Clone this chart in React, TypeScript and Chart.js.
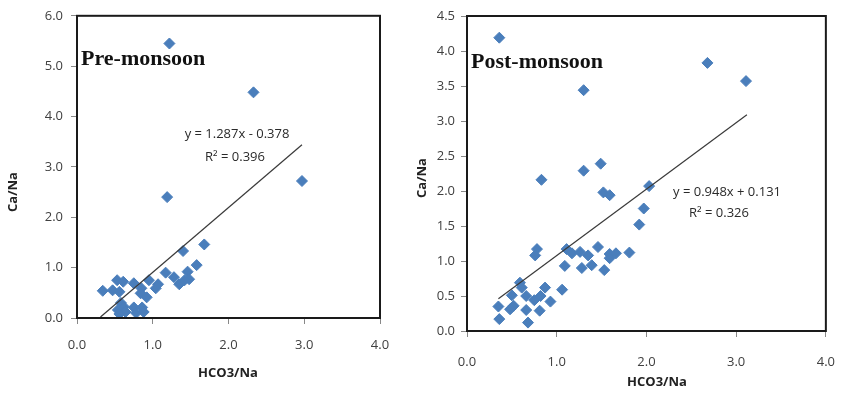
import React, { useEffect, useRef } from "react";
import { Chart, registerables } from "chart.js";
Chart.register(...registerables);

// Pre-monsoon
const preX = [1.22, 2.33, 2.97, 1.19, 1.68, 1.40, 1.58, 1.46, 1.17, 1.28, 1.35, 1.48, 1.42, 0.95, 1.07, 1.04, 0.53, 0.61, 0.34, 0.47, 0.56, 0.75, 0.85, 0.84, 0.92, 0.58, 0.62, 0.54, 0.64, 0.56, 0.75, 0.78, 0.86, 0.88];
const preY = [5.45, 4.48, 2.72, 2.40, 1.46, 1.33, 1.05, 0.92, 0.90, 0.81, 0.67, 0.77, 0.75, 0.75, 0.67, 0.59, 0.75, 0.72, 0.54, 0.55, 0.52, 0.69, 0.59, 0.49, 0.41, 0.30, 0.22, 0.16, 0.12, 0.08, 0.21, 0.10, 0.21, 0.12];
const preTrendX = [0.31, 2.97];
const preTrendY = [0.02, 3.44];
const preTicksY = [0, 1, 2, 3, 4, 5, 6];

// Post-monsoon
const postX = [0.36, 2.68, 3.11, 1.30, 1.49, 1.30, 0.83, 2.03, 1.52, 1.59, 1.97, 1.92, 0.78, 0.76, 1.11, 1.17, 1.26, 1.35, 1.46, 1.59, 1.59, 1.66, 1.81, 1.09, 1.28, 1.39, 1.53, 0.59, 0.61, 1.06, 0.87, 0.50, 0.66, 0.75, 0.82, 0.93, 0.52, 0.48, 0.35, 0.66, 0.81, 0.36, 0.68];
const postY = [4.19, 3.83, 3.57, 3.44, 2.39, 2.29, 2.16, 2.07, 1.98, 1.94, 1.75, 1.52, 1.17, 1.08, 1.17, 1.11, 1.13, 1.08, 1.20, 1.10, 1.04, 1.11, 1.12, 0.93, 0.90, 0.94, 0.87, 0.69, 0.62, 0.59, 0.62, 0.51, 0.50, 0.44, 0.50, 0.42, 0.36, 0.31, 0.35, 0.30, 0.29, 0.17, 0.12];
const postTrendX = [0.35, 3.12];
const postTrendY = [0.46, 3.09];
const postTicksY = [0, 0.5, 1, 1.5, 2, 2.5, 3, 3.5, 4, 4.5];

const xTicks = [0, 1, 2, 3, 4];
const xTitle = "HCO3/Na";
const yTitle = "Ca/Na";

type Cfg = {
  xs: number[]; ys: number[]; tx: number[]; ty: number[]; yTicks: number[];
  yMax: number; title: string; eq: string; r2: string;
  w: number; h: number; yW: number; xH: number; padTop: number; padRight: number;
  xPad: number; yPad: number;
  titlePos: [number, number]; eqPos: [number, number]; r2Pos: [number, number];
  xTitlePos: [number, number]; yTitlePos: [number, number];
};

const tickFont = { family: "'Open Sans', 'Liberation Sans', sans-serif", size: 13 };

function Panel({ cfg, left }: { cfg: Cfg; left: number }) {
  const ref = useRef<HTMLCanvasElement>(null);
  useEffect(() => {
    const c = cfg;
    const overlay = {
      id: "overlay",
      afterDatasetsDraw(chart: any) {
        const ctx = chart.ctx;
        const a = chart.chartArea;
        ctx.save();
        ctx.strokeStyle = "#1a1a1a";
        ctx.lineWidth = 2;
        ctx.strokeRect(a.left, a.top, a.right - a.left, a.bottom - a.top);
        ctx.fillStyle = "#111";
        ctx.font = "bold 22px 'Liberation Serif', 'Times New Roman', serif";
        ctx.textAlign = "left";
        ctx.textBaseline = "middle";
        ctx.fillText(c.title, c.titlePos[0], c.titlePos[1]);
        ctx.fillStyle = "#2a2a2a";
        ctx.font = "13px 'Open Sans', 'Liberation Sans', sans-serif";
        ctx.textAlign = "center";
        ctx.fillText(c.eq, c.eqPos[0], c.eqPos[1]);
        ctx.fillText(c.r2, c.r2Pos[0], c.r2Pos[1]);
        ctx.fillStyle = "#222";
        ctx.font = "bold 13px 'Open Sans', 'Liberation Sans', sans-serif";
        ctx.fillText(xTitle, c.xTitlePos[0], c.xTitlePos[1]);
        ctx.translate(c.yTitlePos[0], c.yTitlePos[1]);
        ctx.rotate(-Math.PI / 2);
        ctx.fillText(yTitle, 0, 0);
        ctx.restore();
      },
    };
    const chart = new Chart(ref.current!, {
      type: "scatter",
      data: {
        datasets: [
          {
            type: "scatter",
            data: c.xs.map((x, i) => ({ x, y: c.ys[i] })),
            backgroundColor: "#4A7EBB",
            borderColor: "#4A7EBB",
            pointStyle: "rectRot",
            pointRadius: 5.5,
            order: 1,
          },
          {
            type: "line",
            data: c.tx.map((x, i) => ({ x, y: c.ty[i] })),
            borderColor: "#3a3a3a",
            borderWidth: 1.2,
            pointRadius: 0,
            fill: false,
            order: 0,
          } as any,
        ],
      },
      options: {
        responsive: false,
        animation: false,
        layout: { padding: { top: c.padTop, right: c.padRight, left: 0, bottom: 0 } },
        plugins: { legend: { display: false }, tooltip: { enabled: false } },
        scales: {
          x: {
            type: "linear",
            min: 0,
            max: 4,
            afterFit: (s: any) => { s.height = c.xH; },
            afterBuildTicks: (s: any) => { s.ticks = xTicks.map((v) => ({ value: v })); },
            border: { display: false },
            grid: { drawOnChartArea: false, drawTicks: true, tickLength: 6, color: "#888" },
            ticks: { font: tickFont, color: "#404040", padding: c.xPad, maxRotation: 0, callback: (v: any) => Number(v).toFixed(1) },
          },
          y: {
            type: "linear",
            min: 0,
            max: c.yMax,
            afterFit: (s: any) => { s.width = c.yW; },
            afterBuildTicks: (s: any) => { s.ticks = c.yTicks.map((v) => ({ value: v })); },
            border: { display: false },
            grid: { drawOnChartArea: false, drawTicks: true, tickLength: 6, color: "#888" },
            ticks: { font: tickFont, color: "#404040", padding: c.yPad, callback: (v: any) => Number(v).toFixed(1) },
          },
        },
      },
      plugins: [overlay],
    });
    return () => chart.destroy();
  }, [cfg]);
  return (
    <canvas
      ref={ref}
      width={cfg.w}
      height={cfg.h}
      style={{ position: "absolute", left, top: 0, width: cfg.w, height: cfg.h }}
    />
  );
}

const leftCfg: Cfg = {
  xs: preX, ys: preY, tx: preTrendX, ty: preTrendY, yTicks: preTicksY, yMax: 6,
  title: "Pre-monsoon", eq: "y = 1.287x - 0.378", r2: "R² = 0.396",
  w: 405, h: 394, yW: 77, xH: 76, padTop: 15, padRight: 25, xPad: 13, yPad: 8,
  titlePos: [81, 59], eqPos: [237, 134], r2Pos: [235, 157],
  xTitlePos: [228, 373], yTitlePos: [13, 192],
};

const rightCfg: Cfg = {
  xs: postX, ys: postY, tx: postTrendX, ty: postTrendY, yTicks: postTicksY, yMax: 4.5,
  title: "Post-monsoon", eq: "y = 0.948x + 0.131", r2: "R² = 0.326",
  w: 442, h: 394, yW: 57, xH: 63, padTop: 16, padRight: 10, xPad: 17, yPad: 6,
  titlePos: [61, 62], eqPos: [317, 192], r2Pos: [309, 213],
  xTitlePos: [247, 382], yTitlePos: [12, 178],
};

export default function App() {
  return (
    <div style={{ position: "fixed", left: 0, top: 0, width: 852, height: 394, background: "#fff" }}>
      <Panel cfg={leftCfg} left={0} />
      <Panel cfg={rightCfg} left={410} />
    </div>
  );
}
